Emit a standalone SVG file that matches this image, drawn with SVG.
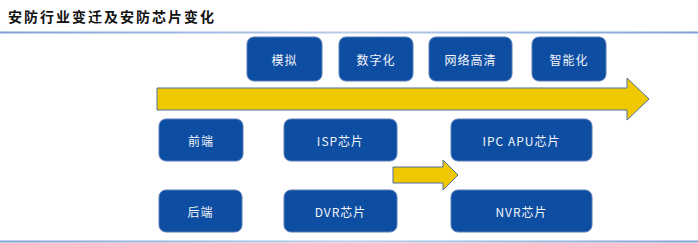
<svg xmlns="http://www.w3.org/2000/svg" width="698" height="243" viewBox="0 0 698 243">
<defs>
<linearGradient id="lg" x1="0" y1="0" x2="1" y2="0">
<stop offset="0" stop-color="#7FA2D6"/>
<stop offset="0.5" stop-color="#B9CCE8"/>
<stop offset="1" stop-color="#7FA2D6"/>
</linearGradient>
</defs>
<style>
.box{fill:#0D4EA2;stroke:#5A7DB8;stroke-width:1}
.t{font-family:"Noto Sans CJK SC","Liberation Sans",sans-serif;font-size:12px;fill:#F2F5FA;text-anchor:middle;dominant-baseline:central;letter-spacing:1px}
.arr{fill:#F0C800;stroke:#4E6FA0;stroke-width:1}
.title{font-family:"Noto Sans CJK SC","Liberation Sans",sans-serif;font-size:14px;font-weight:bold;fill:#111;letter-spacing:2px}
</style>
<text class="title" x="8" y="22">安防行业变迁及安防芯片变化</text>
<rect x="0" y="31.5" width="698" height="2" fill="url(#lg)"/>
<rect x="0" y="240.5" width="698" height="2" fill="url(#lg)"/>
<g id="connectors">
<path class="arr" d="M157,88 H627 V78 L649,99 L627,120 V110 H157 Z"/>
<path class="arr" d="M393,167 H443 V160 L458,175 L443,190 V183 H393 Z"/>
</g>
<g id="n1"><rect class="box" x="247" y="37" width="75" height="44" rx="7"/><text class="t" x="284.5" y="59">模拟</text></g>
<g id="n2"><rect class="box" x="339" y="37" width="74" height="44" rx="7"/><text class="t" x="376" y="59">数字化</text></g>
<g id="n3"><rect class="box" x="429" y="37" width="83" height="44" rx="7"/><text class="t" x="470.5" y="59">网络高清</text></g>
<g id="n4"><rect class="box" x="532" y="37" width="74" height="44" rx="7"/><text class="t" x="569" y="59">智能化</text></g>
<g id="n5"><rect class="box" x="159" y="119" width="84" height="42" rx="7"/><text class="t" x="201" y="140">前端</text></g>
<g id="n6"><rect class="box" x="284" y="119" width="113" height="42" rx="7"/><text class="t" x="340.5" y="140">ISP芯片</text></g>
<g id="n7"><rect class="box" x="451" y="119" width="141" height="42" rx="7"/><text class="t" x="521.5" y="140">IPC APU芯片</text></g>
<g id="n8"><rect class="box" x="159" y="190" width="83" height="42" rx="7"/><text class="t" x="200.5" y="211">后端</text></g>
<g id="n9"><rect class="box" x="284" y="190" width="113" height="42" rx="7"/><text class="t" x="340.5" y="211">DVR芯片</text></g>
<g id="n10"><rect class="box" x="451" y="190" width="141" height="42" rx="7"/><text class="t" x="521.5" y="211">NVR芯片</text></g>
</svg>
